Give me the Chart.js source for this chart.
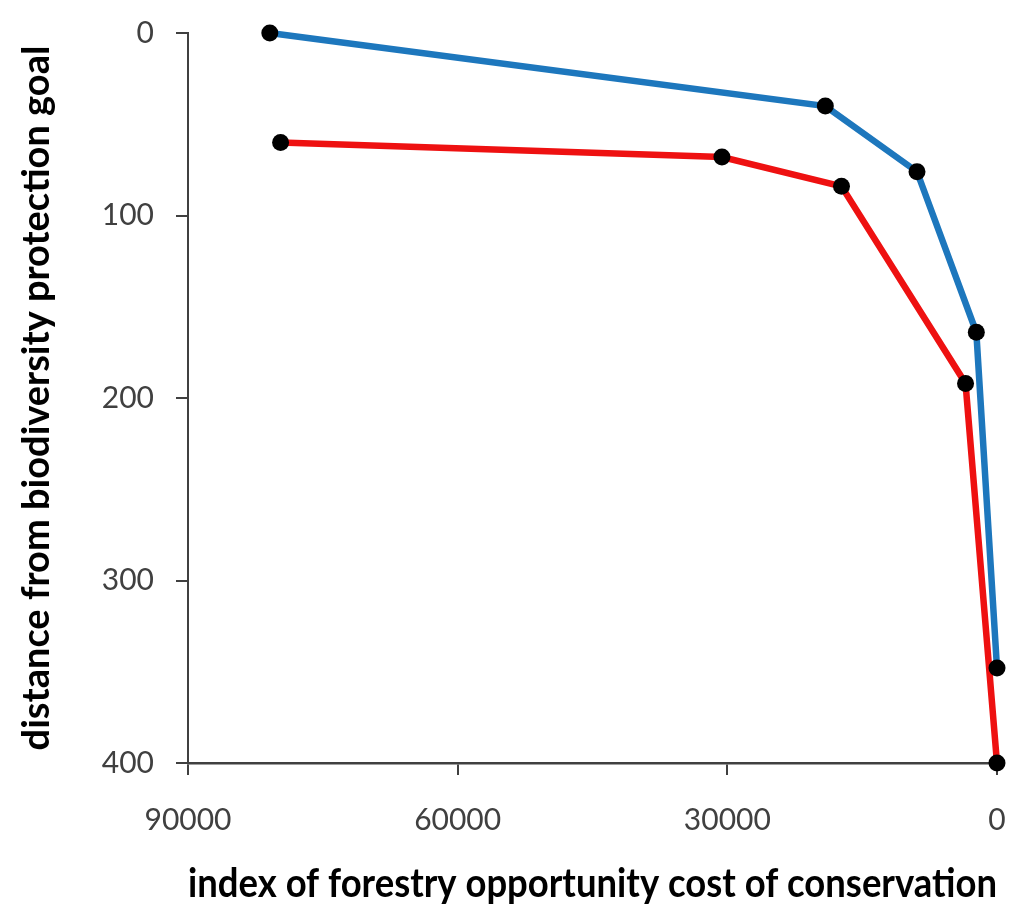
<!DOCTYPE html>
<html>
<head>
<meta charset="utf-8">
<script src="https://cdn.jsdelivr.net/npm/chart.js@4"></script>
<style>
  html, body { margin: 0; padding: 0; background: #ffffff; }
  #wrap { width: 1024px; height: 911px; }
</style>
</head>
<body>
<div id="wrap"><canvas id="tradeoffChart"></canvas></div>
<script>
// values
const blueCost = [80900, 19100, 8900, 2300, 0];
const blueDistance = [0, 40, 76, 164, 348];
const redCost = [79700, 30600, 17300, 3500, 0];
const redDistance = [60, 68, 84, 192, 400];

const xTicks = [90000, 60000, 30000, 0];
const yTicks = [0, 100, 200, 300, 400];

const xTitle = 'index of forestry opportunity cost of conservation';
const yTitle = 'distance from biodiversity protection goal';

function toPoints(xs, ys) {
    return xs.map((x, i) => ({ x: x, y: ys[i] }));
}

const axisColor = '#404040';
const tickFont = { family: 'Lato', size: 30 };

const ctx = document.getElementById('tradeoffChart').getContext('2d');

new Chart(ctx, {
    type: 'line',
    data: {
        datasets: [
            {
                label: 'blue',
                data: toPoints(blueCost, blueDistance),
                borderColor: '#1D77BD',
                borderWidth: 6.5,
                pointRadius: 8.5,
                pointBackgroundColor: '#000000',
                pointBorderWidth: 0,
                tension: 0,
                clip: false
            },
            {
                label: 'red',
                data: toPoints(redCost, redDistance),
                borderColor: '#EE1111',
                borderWidth: 6.5,
                pointRadius: 8.5,
                pointBackgroundColor: '#000000',
                pointBorderWidth: 0,
                tension: 0,
                clip: false
            }
        ]
    },
    options: {
        responsive: true,
        maintainAspectRatio: false,
        animation: false,
        layout: {
            padding: { left: 0, right: 27, top: 33, bottom: 0 }
        },
        plugins: {
            legend: { display: false },
            tooltip: { enabled: false }
        },
        scales: {
            x: {
                type: 'linear',
                reverse: true,
                min: 0,
                max: 90000,
                afterBuildTicks: function (scale) {
                    scale.ticks = xTicks.map(v => ({ value: v }));
                },
                afterFit: function (scale) {
                    scale.height = 148;
                    // keep the end labels from pushing the plot area in
                    scale.paddingLeft = 0;
                    scale.paddingRight = 0;
                },
                grid: {
                    drawOnChartArea: false,
                    drawTicks: true,
                    tickLength: 12,
                    color: axisColor,
                    lineWidth: 2
                },
                border: { color: axisColor, width: 2.5 },
                ticks: {
                    color: axisColor,
                    font: tickFont,
                    padding: 27,
                    maxRotation: 0,
                    callback: value => String(value)
                },
                title: {
                    display: true,
                    text: xTitle,
                    color: '#000000',
                    font: { family: 'Lato', size: 40, weight: 'bold' },
                    padding: { top: 4, bottom: 3 }
                }
            },
            y: {
                type: 'linear',
                reverse: true,
                min: 0,
                max: 400,
                afterBuildTicks: function (scale) {
                    scale.ticks = yTicks.map(v => ({ value: v }));
                },
                afterFit: function (scale) {
                    scale.width = 188;
                    scale.paddingTop = 0;
                    scale.paddingBottom = 0;
                },
                grid: {
                    drawOnChartArea: false,
                    drawTicks: true,
                    tickLength: 12,
                    color: axisColor,
                    lineWidth: 2
                },
                border: { color: axisColor, width: 2 },
                ticks: {
                    color: axisColor,
                    font: tickFont,
                    padding: 22,
                    callback: value => String(value)
                },
                title: {
                    display: true,
                    text: yTitle,
                    color: '#000000',
                    font: { family: 'Lato', size: 38, weight: 'bold' },
                    padding: { top: 14, bottom: 0 }
                }
            }
        }
    }
});
</script>
</body>
</html>
